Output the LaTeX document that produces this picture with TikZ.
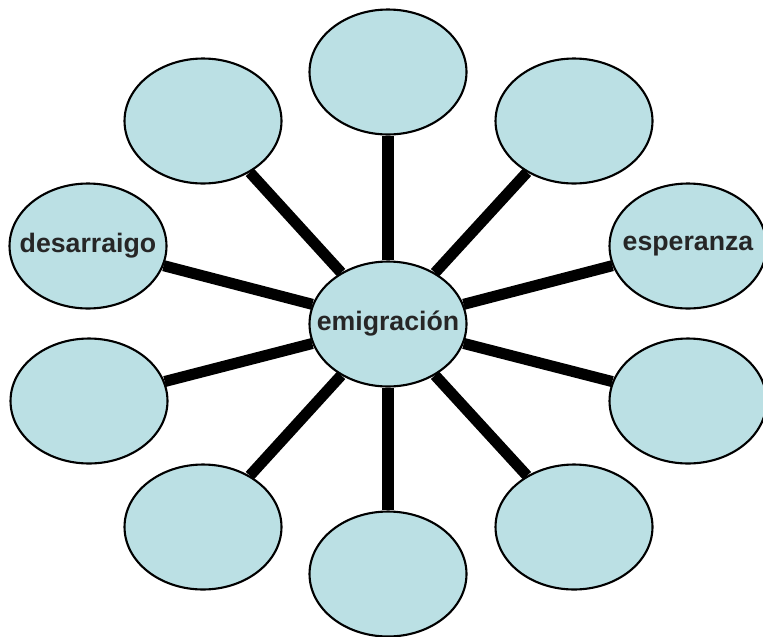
\documentclass[tikz,border=0pt]{standalone}
\usepackage{fontspec}
\setmainfont{Liberation Sans}
\usetikzlibrary{shapes.geometric,backgrounds}
\definecolor{celeste}{RGB}{187,224,228}
\definecolor{texto}{RGB}{38,38,38}

\begin{document}
\begin{tikzpicture}[x=0.02cm,y=-0.02cm,
    burbuja/.style={ellipse, draw=black, line width=1.2pt, fill=celeste,
        minimum width=3.14cm, minimum height=2.5cm, inner sep=0pt},
    rayo/.style={line width=6.3pt},
    etiqueta/.style={font=\bfseries\fontsize{15.2}{18}\selectfont, text=texto}]
    % Marco de la figura
    \useasboundingbox (0,0) rectangle (763,636);

    % Burbuja central
    \node[burbuja, label={[etiqueta]center:emigración}] (centro) at (388,324) {};

    % Burbujas de alrededor
    \node[burbuja] (sup) at (388,72) {};
    \node[burbuja] (supder) at (574,121) {};
    \node[burbuja, label={[etiqueta]center:esperanza}] (esp) at (688,246) {};
    \node[burbuja] (der) at (688,401) {};
    \node[burbuja] (infder) at (574,527) {};
    \node[burbuja] (inf) at (388,574) {};
    \node[burbuja] (infizq) at (203,527) {};
    \node[burbuja] (izq) at (89,401) {};
    \node[burbuja, label={[etiqueta]center:desarraigo}] (des) at (88,246) {};
    \node[burbuja] (supizq) at (203,121) {};

    % Rayos hacia el centro
    \begin{scope}[on background layer]
        \foreach \b in {sup,supder,esp,der,infder,inf,infizq,izq,des,supizq}
            \draw[rayo] (centro) -- (\b);
    \end{scope}
\end{tikzpicture}
\end{document}
